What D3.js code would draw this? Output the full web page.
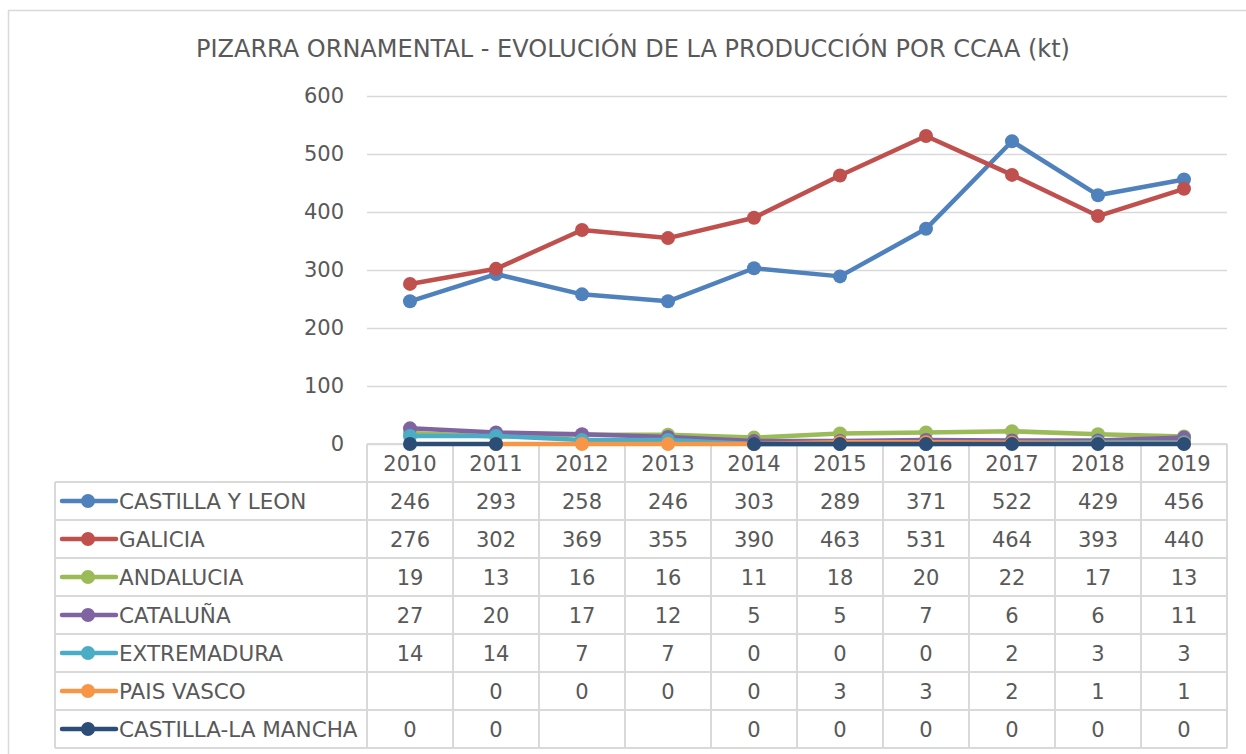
<!DOCTYPE html>
<html>
<head>
<meta charset="utf-8">
<script src="https://cdn.jsdelivr.net/npm/d3@7"></script>
<style>
  body { margin: 0; background: #fff; }
  svg text { font-family: Tahoma, "DejaVu Sans", sans-serif; fill: #595959; }
</style>
</head>
<body>
<div id="chart"></div>
<script>
const years = ["2010", "2011", "2012", "2013", "2014", "2015", "2016", "2017", "2018", "2019"];
const regions = ["CASTILLA Y LEON", "GALICIA", "ANDALUCIA", "CATALUÑA", "EXTREMADURA", "PAIS VASCO", "CASTILLA-LA MANCHA"];
const colors = ["#4f81bd", "#c0504d", "#9bbb59", "#8064a2", "#4bacc6", "#f79646", "#2c4d75"];

const castillaLeon = [246, 293, 258, 246, 303, 289, 371, 522, 429, 456];
const galicia = [276, 302, 369, 355, 390, 463, 531, 464, 393, 440];
const andalucia = [19, 13, 16, 16, 11, 18, 20, 22, 17, 13];
const cataluna = [27, 20, 17, 12, 5, 5, 7, 6, 6, 11];
const extremadura = [14, 14, 7, 7, 0, 0, 0, 2, 3, 3];
const paisVasco = [null, 0, 0, 0, 0, 3, 3, 2, 1, 1];
const castillaMancha = [0, 0, null, null, 0, 0, 0, 0, 0, 0];

const yTicks = [0, 100, 200, 300, 400, 500, 600];
const title = "PIZARRA ORNAMENTAL - EVOLUCIÓN DE LA PRODUCCIÓN POR CCAA (kt)";

const series = [castillaLeon, galicia, andalucia, cataluna, extremadura, paisVasco, castillaMancha]
    .map((values, i) => ({ name: regions[i], color: colors[i], values }));

const W = 1246, H = 754;
const plot = { left: 367, right: 1227, top: 96, bottom: 444 };
const legendLeft = 55;
const rowH = 38;
const gridColor = "#d9d9d9";

const svg = d3.select("#chart").append("svg")
    .attr("width", W)
    .attr("height", H);

// chart frame
svg.append("rect")
    .attr("x", 8.5).attr("y", 10.5)
    .attr("width", W + 10).attr("height", H + 10)
    .attr("fill", "none")
    .attr("stroke", gridColor)
    .attr("stroke-width", 1.5);

// Scales
const x = d3.scaleBand()
    .domain(years)
    .range([plot.left, plot.right]);

const y = d3.scaleLinear()
    .domain([0, 600])
    .range([plot.bottom, plot.top]);

// Title
svg.append("text")
    .attr("x", 633)
    .attr("y", 57)
    .attr("text-anchor", "middle")
    .style("font-size", "24px")
    .text(title);

// Gridlines + y labels
const yAxis = svg.append("g")
    .attr("transform", `translate(${plot.left},0)`)
    .call(d3.axisLeft(y).tickValues(yTicks).tickSize(-(plot.right - plot.left)).tickPadding(23));
yAxis.select(".domain").remove();
yAxis.selectAll(".tick line").attr("stroke", gridColor).attr("stroke-width", 1.5);
yAxis.selectAll(".tick text")
    .style("font-size", "21px")
    .style("font-family", "Tahoma, 'DejaVu Sans', sans-serif")
    .attr("fill", "#595959");

// Data table
const table = svg.append("g");
const tableBottom = plot.bottom + rowH * (regions.length + 1);

// horizontal lines
table.append("line")
    .attr("x1", plot.left).attr("x2", plot.right)
    .attr("y1", plot.bottom).attr("y2", plot.bottom);
d3.range(regions.length + 1).forEach(i => {
    table.append("line")
        .attr("x1", legendLeft).attr("x2", plot.right)
        .attr("y1", plot.bottom + rowH * (i + 1))
        .attr("y2", plot.bottom + rowH * (i + 1));
});
// vertical lines
years.forEach(yr => {
    table.append("line")
        .attr("x1", x(yr)).attr("x2", x(yr))
        .attr("y1", plot.bottom).attr("y2", tableBottom);
});
table.append("line")
    .attr("x1", plot.right).attr("x2", plot.right)
    .attr("y1", plot.bottom).attr("y2", tableBottom);
table.append("line")
    .attr("x1", legendLeft).attr("x2", legendLeft)
    .attr("y1", plot.bottom + rowH).attr("y2", tableBottom);
table.selectAll("line")
    .attr("stroke", gridColor)
    .attr("stroke-width", 2);

// year header
table.selectAll(".year")
    .data(years)
    .enter()
    .append("text")
    .attr("x", d => x(d) + x.bandwidth() / 2)
    .attr("y", plot.bottom + rowH / 2 + 8)
    .attr("text-anchor", "middle")
    .style("font-size", "21px")
    .text(d => d);

// rows
series.forEach((s, i) => {
    const cy = plot.bottom + rowH * (i + 1) + rowH / 2;
    const row = table.append("g");
    row.append("line")
        .attr("x1", legendLeft + 7).attr("x2", legendLeft + 61)
        .attr("y1", cy).attr("y2", cy)
        .attr("stroke", s.color)
        .attr("stroke-width", 4.5)
        .attr("stroke-linecap", "round");
    row.append("circle")
        .attr("cx", legendLeft + 33).attr("cy", cy)
        .attr("r", 7)
        .attr("fill", s.color);
    row.append("text")
        .attr("x", legendLeft + 64)
        .attr("y", cy + 8)
        .style("font-size", "21.5px")
        .text(s.name);
    row.selectAll(".val")
        .data(s.values)
        .enter()
        .append("text")
        .attr("x", (d, j) => x(years[j]) + x.bandwidth() / 2)
        .attr("y", cy + 8)
        .attr("text-anchor", "middle")
        .style("font-size", "21px")
        .text(d => d === null ? "" : d);
});

// Lines
const line = d3.line()
    .defined(d => d.v !== null)
    .x(d => x(d.year) + x.bandwidth() / 2)
    .y(d => y(d.v));

series.forEach(s => {
    const pts = s.values.map((v, j) => ({ year: years[j], v }));
    const g = svg.append("g");
    g.append("path")
        .datum(pts)
        .attr("d", line)
        .attr("fill", "none")
        .attr("stroke", s.color)
        .attr("stroke-width", 4.5)
        .attr("stroke-linejoin", "round")
        .attr("stroke-linecap", "round");
    g.selectAll("circle")
        .data(pts.filter(d => d.v !== null))
        .enter()
        .append("circle")
        .attr("cx", d => x(d.year) + x.bandwidth() / 2)
        .attr("cy", d => y(d.v))
        .attr("r", 7)
        .attr("fill", s.color);
});
</script>
</body>
</html>
